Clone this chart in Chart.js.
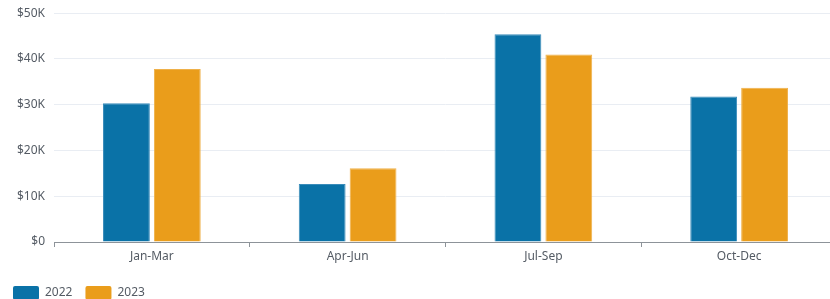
<!DOCTYPE html>
<html><head><meta charset="utf-8">
<script src="https://cdn.jsdelivr.net/npm/chart.js@4.4.1/dist/chart.umd.min.js"></script>
<style>
html,body{margin:0;padding:0;background:#fff;overflow:hidden;}
#wrap{width:830px;height:299px;overflow:hidden;}
#box{width:837px;height:313px;position:relative;margin-top:-3px;}
</style></head>
<body><div id="wrap"><div id="box"><canvas id="c"></canvas></div></div>
<script>
const categories = ["Jan-Mar", "Apr-Jun", "Jul-Sep", "Oct-Dec"];
const seriesNames = ["2022", "2023"];
const values2022 = [30300, 12700, 45400, 31800];
const values2023 = [37800, 16100, 41000, 33700];
const yTicks = [0, 10000, 20000, 30000, 40000, 50000];

Chart.defaults.font.family = "'Noto Sans', 'Open Sans', sans-serif";
Chart.defaults.font.size = 12;
Chart.defaults.color = '#545b64';

new Chart(document.getElementById('c'), {
  type: 'bar',
  data: {
    labels: categories,
    datasets: [
      { label: seriesNames[0], data: values2022, backgroundColor: '#0a72a7', borderColor: '#3a8cba', borderWidth: 1, borderSkipped: 'bottom' },
      { label: seriesNames[1], data: values2023, backgroundColor: '#ea9d1b', borderColor: '#efb14a', borderWidth: 1, borderSkipped: 'bottom' }
    ]
  },
  options: {
    responsive: true,
    maintainAspectRatio: false,
    animation: false,
    layout: { padding: { top: 4, right: 0, left: 0, bottom: 0 } },
    datasets: { bar: { categoryPercentage: 0.52, barPercentage: 0.92 } },
    plugins: {
      tooltip: { enabled: false },
      legend: {
        position: 'bottom',
        align: 'start',
        labels: { boxWidth: 26, boxHeight: 14, padding: 13, color: '#545b64', font: { size: 12 },
          generateLabels(chart) {
            return chart.data.datasets.map((d, i) => ({ text: d.label, fillStyle: d.backgroundColor, strokeStyle: d.backgroundColor, lineWidth: 0, borderRadius: 2, datasetIndex: i, fontColor: '#545b64' }));
          }
        }
      }
    },
    scales: {
      x: {
        grid: { display: true, drawOnChartArea: false, drawTicks: true, tickLength: 5, color: '#8d9399', offset: true },
        border: { display: true, color: '#8d9399', width: 1 },
        ticks: { padding: 2, color: '#545b64' },
        afterFit(s) { s.height = 31; }
      },
      y: {
        min: 0, max: 50000,
        afterBuildTicks(s) { s.ticks = yTicks.map(v => ({ value: v })); },
        grid: { color: '#e9edf3', drawTicks: false, lineWidth: 1 },
        border: { display: false },
        ticks: { padding: 9, color: '#545b64', callback: v => v === 0 ? '$0' : '$' + (v / 1000) + 'K' },
        afterFit(s) { s.width = 54; }
      }
    }
  }
});
</script></body></html>
